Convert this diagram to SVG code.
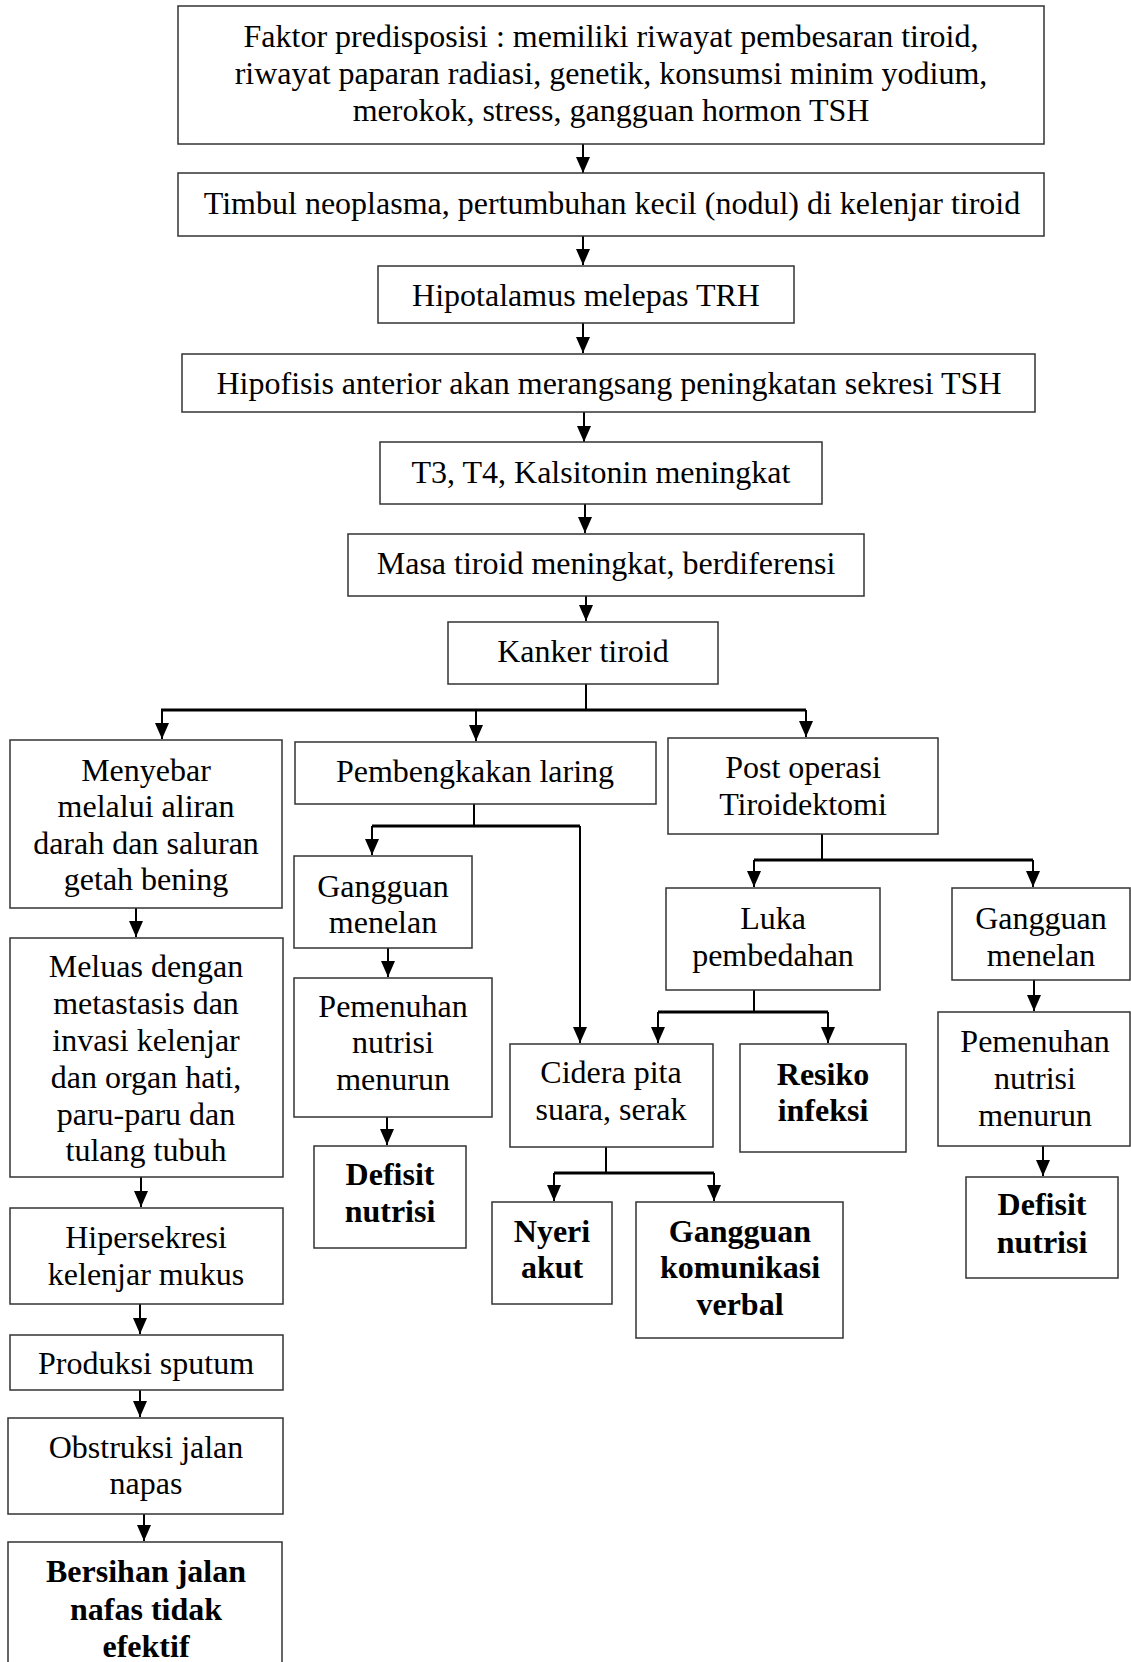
<svg xmlns="http://www.w3.org/2000/svg" width="1131" height="1662" viewBox="0 0 1131 1662">
<style>
.box{fill:#fff;stroke:#333;stroke-width:1.5}
.t{font-family:"Liberation Serif","Times New Roman",serif;font-size:32px;text-anchor:middle;fill:#000}
.b{font-weight:bold}
.c{stroke:#000;stroke-width:2;fill:none}
.h{stroke:#000;stroke-width:3;fill:none}
.a{stroke:#000;stroke-width:2;fill:none;marker-end:url(#ar)}
</style>
<defs>
<marker id="ar" markerUnits="userSpaceOnUse" markerWidth="16" markerHeight="15" refX="16" refY="7" orient="auto">
<path d="M0,0 L16,7 L0,14 z" fill="#000"/>
</marker>
</defs>
<rect width="1131" height="1662" fill="#fff"/>
<g id="connectors">
<path class="a" d="M583,144 V173"/>
<path class="a" d="M583,236 V265"/>
<path class="a" d="M583,323 V353"/>
<path class="a" d="M584,412 V442"/>
<path class="a" d="M585,504 V533"/>
<path class="a" d="M586,596 V621"/>
<path class="c" d="M586,684 V710"/>
<path class="h" d="M161,710 H806"/>
<path class="a" d="M162,710 V739"/>
<path class="a" d="M476,710 V741"/>
<path class="a" d="M806,710 V737"/>
<path class="a" d="M136,908 V937"/>
<path class="a" d="M141,1177 V1207"/>
<path class="a" d="M140,1304 V1334"/>
<path class="a" d="M140,1390 V1417"/>
<path class="a" d="M144,1514 V1541"/>
<path class="c" d="M474,804 V826"/>
<path class="h" d="M372,826 H580"/>
<path class="a" d="M372,826 V855"/>
<path class="a" d="M580,826 V1043"/>
<path class="a" d="M388,948 V977"/>
<path class="a" d="M387,1117 V1145"/>
<path class="c" d="M822,834 V860"/>
<path class="h" d="M754,860 H1033"/>
<path class="a" d="M754,860 V887"/>
<path class="a" d="M1033,860 V887"/>
<path class="c" d="M754,990 V1012"/>
<path class="h" d="M658,1012 H828"/>
<path class="a" d="M658,1012 V1043"/>
<path class="a" d="M828,1012 V1043"/>
<path class="c" d="M606,1147 V1173"/>
<path class="h" d="M554,1173 H714"/>
<path class="a" d="M554,1173 V1201"/>
<path class="a" d="M714,1173 V1201"/>
<path class="a" d="M1034,980 V1011"/>
<path class="a" d="M1043,1132 V1176"/>
</g>
<g id="n1"><rect class="box" x="178" y="6" width="866" height="138"/>
<text class="t" x="611" y="47">Faktor predisposisi : memiliki riwayat pembesaran tiroid,</text>
<text class="t" x="611" y="84">riwayat paparan radiasi, genetik, konsumsi minim yodium,</text>
<text class="t" x="611" y="121">merokok, stress, gangguan hormon TSH</text></g>
<g id="n2"><rect class="box" x="178" y="173" width="866" height="63"/>
<text class="t" x="612" y="214">Timbul neoplasma, pertumbuhan kecil (nodul) di kelenjar tiroid</text></g>
<g id="n3"><rect class="box" x="378" y="266" width="416" height="57"/>
<text class="t" x="586" y="306">Hipotalamus melepas TRH</text></g>
<g id="n4"><rect class="box" x="182" y="354" width="853" height="58"/>
<text class="t" x="609" y="394">Hipofisis anterior akan merangsang peningkatan sekresi TSH</text></g>
<g id="n5"><rect class="box" x="380" y="442" width="442" height="62"/>
<text class="t" x="601" y="483">T3, T4, Kalsitonin meningkat</text></g>
<g id="n6"><rect class="box" x="348" y="534" width="516" height="62"/>
<text class="t" x="606" y="574">Masa tiroid meningkat, berdiferensi</text></g>
<g id="n7"><rect class="box" x="448" y="622" width="270" height="62"/>
<text class="t" x="583" y="662">Kanker tiroid</text></g>
<g id="n8"><rect class="box" x="10" y="740" width="272" height="168"/>
<text class="t" x="146" y="781">Menyebar</text>
<text class="t" x="146" y="817">melalui aliran</text>
<text class="t" x="146" y="854">darah dan saluran</text>
<text class="t" x="146" y="890">getah bening</text></g>
<g id="n9"><rect class="box" x="10" y="938" width="273" height="239"/>
<text class="t" x="146" y="977">Meluas dengan</text>
<text class="t" x="146" y="1014">metastasis dan</text>
<text class="t" x="146" y="1051">invasi kelenjar</text>
<text class="t" x="146" y="1088">dan organ hati,</text>
<text class="t" x="146" y="1125">paru-paru dan</text>
<text class="t" x="146" y="1161">tulang tubuh</text></g>
<g id="n10"><rect class="box" x="10" y="1208" width="273" height="96"/>
<text class="t" x="146" y="1248">Hipersekresi</text>
<text class="t" x="146" y="1285">kelenjar mukus</text></g>
<g id="n11"><rect class="box" x="10" y="1335" width="273" height="55"/>
<text class="t" x="146" y="1374">Produksi sputum</text></g>
<g id="n12"><rect class="box" x="8" y="1418" width="275" height="96"/>
<text class="t" x="146" y="1458">Obstruksi jalan</text>
<text class="t" x="146" y="1494">napas</text></g>
<g id="n13"><rect class="box" x="8" y="1542" width="274" height="140"/>
<text class="t b" x="146" y="1582">Bersihan jalan</text>
<text class="t b" x="146" y="1620">nafas tidak</text>
<text class="t b" x="146" y="1657">efektif</text></g>
<g id="n14"><rect class="box" x="295" y="742" width="361" height="62"/>
<text class="t" x="475" y="782">Pembengkakan laring</text></g>
<g id="n15"><rect class="box" x="294" y="856" width="178" height="92"/>
<text class="t" x="383" y="897">Gangguan</text>
<text class="t" x="383" y="933">menelan</text></g>
<g id="n16"><rect class="box" x="294" y="978" width="198" height="139"/>
<text class="t" x="393" y="1017">Pemenuhan</text>
<text class="t" x="393" y="1053">nutrisi</text>
<text class="t" x="393" y="1090">menurun</text></g>
<g id="n17"><rect class="box" x="314" y="1146" width="152" height="102"/>
<text class="t b" x="390" y="1185">Defisit</text>
<text class="t b" x="390" y="1222">nutrisi</text></g>
<g id="n18"><rect class="box" x="668" y="738" width="270" height="96"/>
<text class="t" x="803" y="778">Post operasi</text>
<text class="t" x="803" y="815">Tiroidektomi</text></g>
<g id="n19"><rect class="box" x="666" y="888" width="214" height="102"/>
<text class="t" x="773" y="929">Luka</text>
<text class="t" x="773" y="966">pembedahan</text></g>
<g id="n20"><rect class="box" x="952" y="888" width="178" height="92"/>
<text class="t" x="1041" y="929">Gangguan</text>
<text class="t" x="1041" y="966">menelan</text></g>
<g id="n21"><rect class="box" x="510" y="1044" width="203" height="103"/>
<text class="t" x="611" y="1083">Cidera pita</text>
<text class="t" x="611" y="1120">suara, serak</text></g>
<g id="n22"><rect class="box" x="740" y="1044" width="166" height="108"/>
<text class="t b" x="823" y="1085">Resiko</text>
<text class="t b" x="823" y="1121">infeksi</text></g>
<g id="n23"><rect class="box" x="938" y="1012" width="192" height="134"/>
<text class="t" x="1035" y="1052">Pemenuhan</text>
<text class="t" x="1035" y="1089">nutrisi</text>
<text class="t" x="1035" y="1126">menurun</text></g>
<g id="n24"><rect class="box" x="966" y="1177" width="152" height="101"/>
<text class="t b" x="1042" y="1215">Defisit</text>
<text class="t b" x="1042" y="1253">nutrisi</text></g>
<g id="n25"><rect class="box" x="492" y="1202" width="120" height="102"/>
<text class="t b" x="552" y="1242">Nyeri</text>
<text class="t b" x="552" y="1278">akut</text></g>
<g id="n26"><rect class="box" x="636" y="1202" width="207" height="136"/>
<text class="t b" x="740" y="1242">Gangguan</text>
<text class="t b" x="740" y="1278">komunikasi</text>
<text class="t b" x="740" y="1315">verbal</text></g>
</svg>
